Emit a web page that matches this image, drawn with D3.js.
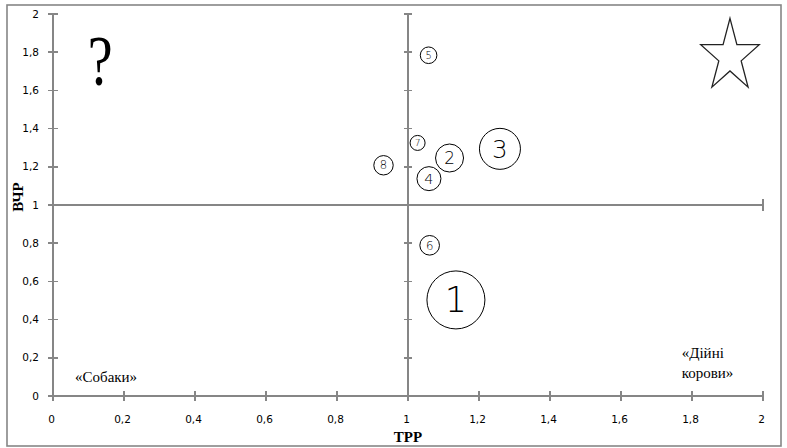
<!DOCTYPE html>
<html><head><meta charset="utf-8">
<script src="https://cdn.jsdelivr.net/npm/d3@7"></script>
<style>
html,body{margin:0;padding:0;background:#fff;}
svg{display:block;}
</style></head>
<body>
<svg id="chart" width="787" height="448"></svg>
<script>
// ---- data ----
const labels = ["1","2","3","4","5","6","7","8"];
const trr    = [1.135, 1.117, 1.259, 1.059, 1.058, 1.061, 1.027, 0.931];
const vchr   = [0.503, 1.246, 1.294, 1.138, 1.784, 0.789, 1.325, 1.208];
const sizes  = [29, 14, 20.5, 12, 8.3, 9.8, 7.5, 9.7];
const tickValues = [0, 0.2, 0.4, 0.6, 0.8, 1, 1.2, 1.4, 1.6, 1.8, 2];
const xTitle = "ТРР";
const yTitle = "ВЧР";
const quadrantText = [
  {lines:["«Собаки»"], x:0.062, y:0.073},
  {lines:["«Дійні", "корови»"], x:1.771, y:0.2}
];
const questionPos = {x:0.133, y:1.63};
const starPos = {x:1.907, y:1.778};

// ---- layout ----
const svg = d3.select("#chart");
const L = 53, R = 763, T = 14, B = 396;
const x = d3.scaleLinear().domain([0,2]).range([L,R]);
const y = d3.scaleLinear().domain([0,2]).range([B,T]);
const r = d3.scaleLinear().domain([0,30]).range([0,30]);
const grey = "#868686";
const fmt = d => d3.format("")(+d.toFixed(1)).replace(".", ",");

// frame
svg.append("rect").attr("x",7).attr("y",5).attr("width",774).attr("height",441)
  .attr("fill","none").attr("stroke",grey).attr("stroke-width",1.6);

const g = svg.append("g").attr("stroke",grey).attr("stroke-width",1.5).attr("fill","none").attr("shape-rendering","crispEdges");
g.append("line").attr("x1",x(0)).attr("x2",x(0)).attr("y1",y(2)).attr("y2",y(0)+5);
g.append("line").attr("x1",x(1)).attr("x2",x(1)).attr("y1",y(2)).attr("y2",y(0)+5);
g.append("line").attr("x1",x(0)-5).attr("x2",x(2)).attr("y1",y(0)).attr("y2",y(0));
g.append("line").attr("x1",x(0)).attr("x2",x(2)).attr("y1",y(1)).attr("y2",y(1));
g.append("line").attr("x1",x(2)).attr("x2",x(2)).attr("y1",y(1)-6).attr("y2",y(1)+6);

tickValues.forEach(v => {
  if (v > 0) {
    g.append("line").attr("x1",x(0)-5).attr("x2",x(0)+5).attr("y1",y(v)).attr("y2",y(v));
    g.append("line").attr("x1",x(1)-4).attr("x2",x(1)+4).attr("y1",y(v)).attr("y2",y(v));
    g.append("line").attr("x1",x(v)).attr("x2",x(v)).attr("y1",y(0)-5).attr("y2",y(0)+5);
  }
});

// tick labels
const tf = "Tahoma, 'DejaVu Sans', sans-serif";
svg.append("g").selectAll("text").data(tickValues).join("text")
  .attr("x", 39).attr("y", d => y(d)).attr("dy","0.35em")
  .attr("text-anchor","end").attr("font-family",tf).attr("font-size",10.5).attr("fill","#000")
  .text(fmt);
svg.append("g").selectAll("text").data(tickValues).join("text")
  .attr("x", d => x(d) - 1.5).attr("y", 423)
  .attr("text-anchor","middle").attr("font-family",tf).attr("font-size",10.5).attr("fill","#000")
  .text(fmt);

// axis titles
svg.append("text").attr("x", x(1)).attr("y", 442).attr("text-anchor","middle")
  .attr("font-family","'Liberation Serif', serif").attr("font-weight","bold").attr("font-size",15)
  .text(xTitle);
svg.append("text").attr("transform","translate(23,197) rotate(-90)").attr("text-anchor","middle")
  .attr("font-family","'Liberation Serif', serif").attr("font-weight","bold").attr("font-size",15)
  .text(yTitle);

// quadrant texts
quadrantText.forEach(q => {
  const t = svg.append("text").attr("x", x(q.x)).attr("y", y(q.y))
    .attr("font-family","'Liberation Serif', serif").attr("font-size",15).attr("fill","#000");
  q.lines.forEach((ln,i) => t.append("tspan").attr("x", x(q.x)).attr("dy", i ? 20 : 0).text(ln));
});

// question mark
svg.append("text")
  .attr("transform", `translate(${x(questionPos.x)},${y(questionPos.y)}) scale(0.78,1)`)
  .attr("text-anchor","middle").attr("font-family","'Liberation Serif', serif")
  .attr("font-size",72).attr("fill","#000").text("?");

// star
const Rs = 38, rs = 38*0.382, sx = 0.81;
const starPts = d3.range(10).map(i => {
  const a = i * Math.PI / 5;
  const rr = i % 2 ? rs : Rs;
  return [x(starPos.x) + rr*Math.sin(a)*sx, y(starPos.y) - rr*Math.cos(a)];
});
svg.append("path").attr("d", d3.line()(starPts) + "Z")
  .attr("fill","none").attr("stroke","#222").attr("stroke-width",1.3);

// bubbles
const data = labels.map((l,i) => ({l, x:trr[i], y:vchr[i], s:sizes[i]}));
const bub = svg.append("g").selectAll("g").data(data).join("g")
  .attr("transform", d => `translate(${x(d.x)},${y(d.y)})`);
bub.append("circle").attr("r", d => r(d.s)).attr("fill","none").attr("stroke","#000").attr("stroke-width",1);
bub.append("text").attr("text-anchor","middle").attr("dy","0.36em")
  .attr("font-family","'DejaVu Sans', sans-serif").attr("font-weight",200)
  .attr("font-size", d => r(d.s)*1.2).attr("fill","#000")
  .text(d => d.l);
</script>
</body></html>
